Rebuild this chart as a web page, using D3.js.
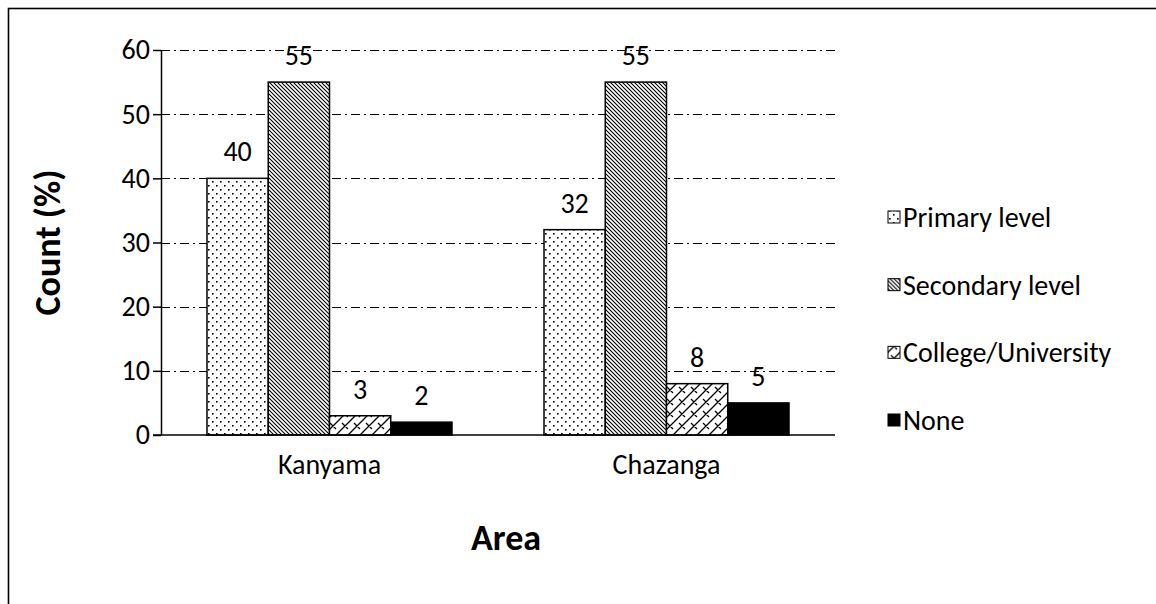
<!DOCTYPE html>
<html>
<head>
<meta charset="utf-8">
<script src="https://cdn.jsdelivr.net/npm/d3@7"></script>
<style>
  html, body { margin: 0; padding: 0; background: #fff; }
  svg { display: block; }
  text { font-family: Carlito, Lato, "Open Sans", sans-serif; fill: #000; }
</style>
</head>
<body>
<svg id="chart" width="1156" height="604"></svg>
<script>
// Education level by area (share of respondents, %)
const areas = ["Kanyama", "Chazanga"];
const levels = ["Primary level", "Secondary level", "College/University", "None"];
const kanyama = [40, 55, 3, 2];
const chazanga = [32, 55, 8, 5];
const yTicks = [0, 10, 20, 30, 40, 50, 60];

const seriesByArea = { Kanyama: kanyama, Chazanga: chazanga };
const fills = ["url(#pDots)", "url(#pDown)", "url(#pBrick)", "#000"];
const FONT = "Carlito, Lato, sans-serif";
const FS = "28px";

const svg = d3.select("#chart");
const W = 1156, H = 604;
const plot = { left: 161, right: 835, top: 50, bottom: 435 };

// outer frame
svg.append("rect")
  .attr("x", 8.5).attr("y", 8.5)
  .attr("width", W + 10).attr("height", H + 10)
  .attr("fill", "none").attr("stroke", "#000").attr("stroke-width", 1.6);

// fill patterns
const defs = svg.append("defs");

const dots = defs.append("pattern").attr("id", "pDots")
  .attr("patternUnits", "userSpaceOnUse").attr("width", 8).attr("height", 8);
dots.append("rect").attr("width", 8).attr("height", 8).attr("fill", "#fff");
dots.append("rect").attr("x", 1).attr("y", 1).attr("width", 1.6).attr("height", 1.6).attr("fill", "#000");
dots.append("rect").attr("x", 5).attr("y", 5).attr("width", 1.6).attr("height", 1.6).attr("fill", "#000");

const down = defs.append("pattern").attr("id", "pDown")
  .attr("patternUnits", "userSpaceOnUse").attr("width", 4).attr("height", 4);
down.append("rect").attr("width", 4).attr("height", 4).attr("fill", "#fff");
down.append("path").attr("d", "M-1,-1 L5,5 M-1,3 L1,5 M3,-1 L5,1")
  .attr("stroke", "#000").attr("stroke-width", 1.1);

const brick = defs.append("pattern").attr("id", "pBrick")
  .attr("patternUnits", "userSpaceOnUse").attr("width", 12).attr("height", 12);
brick.append("rect").attr("width", 12).attr("height", 12).attr("fill", "#fff");
brick.append("path")
  .attr("d", "M0,12 L12,0 M-6,6 L6,-6 M6,18 L18,6 M3,3 L9,9 M-3,9 L3,15 M9,-3 L15,3")
  .attr("stroke", "#000").attr("stroke-width", 1.3).attr("fill", "none");

// scales
const x0 = d3.scaleBand().domain(areas)
  .range([plot.left, plot.right])
  .paddingInner(0.273).paddingOuter(0.1365);
const x1 = d3.scaleBand().domain(levels).range([0, x0.bandwidth()]);
const y = d3.scaleLinear().domain([0, 60]).range([plot.bottom, plot.top]);

// dash-dot gridlines
svg.append("g").selectAll("line")
  .data(yTicks.filter(t => t > 0)).join("line")
  .attr("x1", plot.left).attr("x2", plot.right)
  .attr("y1", d => Math.round(y(d)) + 0.5).attr("y2", d => Math.round(y(d)) + 0.5)
  .attr("stroke", "#000").attr("stroke-width", 1.2)
  .attr("stroke-dasharray", "9,4,2,4");

// y axis
const yAxis = svg.append("g")
  .attr("transform", `translate(${plot.left},0)`)
  .call(d3.axisLeft(y).tickValues(yTicks).tickSize(8).tickPadding(3).tickSizeOuter(0));
yAxis.select(".domain").attr("stroke", "#000").attr("stroke-width", 1.5);
yAxis.selectAll(".tick line").attr("stroke", "#000").attr("stroke-width", 1.5);
yAxis.selectAll(".tick text")
  .style("font-size", FS).style("font-family", FONT);

// bars
const groups = svg.append("g").selectAll("g")
  .data(areas).join("g")
  .attr("transform", d => `translate(${x0(d)},0)`);

groups.selectAll("rect")
  .data(a => levels.map((l, i) => ({ level: l, i, v: seriesByArea[a][i] })))
  .join("rect")
  .attr("x", d => x1(d.level))
  .attr("y", d => y(d.v))
  .attr("width", x1.bandwidth())
  .attr("height", d => y(0) - y(d.v))
  .attr("fill", d => fills[d.i])
  .attr("stroke", "#000").attr("stroke-width", 1.5);

// value labels
groups.selectAll("text.val")
  .data(a => levels.map((l, i) => ({ level: l, v: seriesByArea[a][i] })))
  .join("text").attr("class", "val")
  .attr("x", d => x1(d.level) + x1.bandwidth() / 2)
  .attr("y", d => y(d.v) - 17)
  .attr("text-anchor", "middle")
  .style("font-size", FS)
  .text(d => d.v);

// x axis line and category labels
const xAxis = svg.append("g")
  .attr("transform", `translate(0,${plot.bottom})`)
  .call(d3.axisBottom(x0).tickSize(0).tickPadding(19).tickSizeOuter(0));
xAxis.select(".domain").attr("stroke", "#000").attr("stroke-width", 1.5)
  .attr("d", `M${plot.left - 8},0H${plot.right}`);
xAxis.selectAll(".tick text")
  .style("font-size", FS).style("font-family", FONT);

// axis titles
svg.append("text")
  .attr("transform", `translate(60,${(plot.top + plot.bottom) / 2}) rotate(-90)`)
  .attr("text-anchor", "middle")
  .style("font-size", "36px").style("font-weight", "bold")
  .text("Count (%)");

svg.append("text")
  .attr("x", (plot.left + plot.right) / 2 + 8).attr("y", 550)
  .attr("text-anchor", "middle")
  .style("font-size", "36px").style("font-weight", "bold")
  .text("Area");

// legend
const leg = svg.append("g").attr("transform", "translate(888,0)");
const legY = d3.scalePoint().domain(levels).range([217, 420]);
const items = leg.selectAll("g").data(levels).join("g")
  .attr("transform", d => `translate(0,${legY(d)})`);
items.append("rect")
  .attr("x", 0).attr("y", -6).attr("width", 12).attr("height", 12)
  .attr("fill", (d, i) => fills[i])
  .attr("stroke", "#000").attr("stroke-width", 1);
items.append("text")
  .attr("x", 15).attr("y", 10)
  .style("font-size", FS)
  .text(d => d);
</script>
</body>
</html>
